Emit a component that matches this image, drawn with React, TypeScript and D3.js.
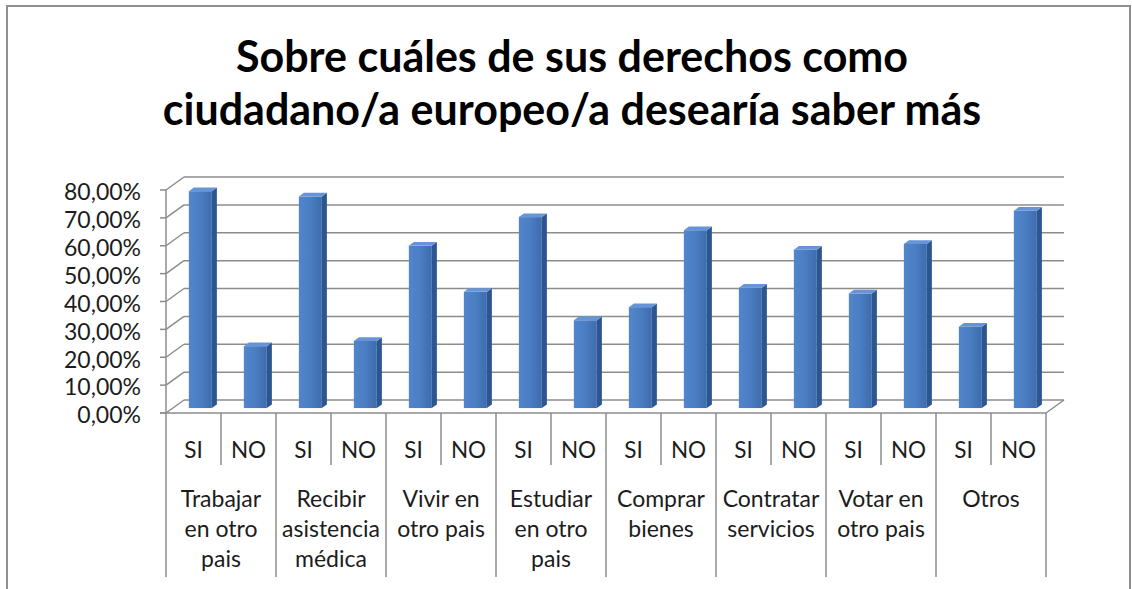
import * as d3 from "d3";

// Chart values
const categories = [
  "Trabajar en otro pais",
  "Recibir asistencia médica",
  "Vivir en otro pais",
  "Estudiar en otro pais",
  "Comprar bienes",
  "Contratar servicios",
  "Votar en otro pais",
  "Otros",
];
const categoryLines = [
  ["Trabajar", "en otro", "pais"],
  ["Recibir", "asistencia", "médica"],
  ["Vivir en", "otro pais"],
  ["Estudiar", "en otro", "pais"],
  ["Comprar", "bienes"],
  ["Contratar", "servicios"],
  ["Votar en", "otro pais"],
  ["Otros"],
];
const answers = ["SI", "NO"];
const siValues = [77.8, 75.9, 58.3, 68.5, 36.2, 43.2, 41.1, 29.2];
const noValues = [22.2, 24.1, 41.7, 31.5, 63.8, 56.8, 58.9, 70.8];
const yTicks = [0, 10, 20, 30, 40, 50, 60, 70, 80];
const titleLines = [
  "Sobre cuáles de sus derechos como",
  "ciudadano/a europeo/a desearía saber más",
];

const W = 1132;
const H = 589;
const FONT = "Lato, 'Open Sans', sans-serif";
const GRID = "#8c8c8c";
const TEXT = "#1c1c1c";

// 3D projection of the depth axis
const depthDx = 18;
const depthDy = -13;
const barFront = 0.38;
const barBack = 0.66;

export default function App() {
  const x = d3.scaleBand<string>().domain(categories).range([166, 1046]);
  const xSub = d3.scaleBand<string>().domain(answers).range([0, x.bandwidth()]);
  const y = d3.scaleLinear().domain([0, 80]).range([413, 190]);
  const fmt = (v: number) => d3.format(".2f")(v).replace(".", ",") + "%";

  const [x0, x1] = x.range();
  const barW = 23;

  const bars = categories.flatMap((c, i) =>
    answers.map((a, j) => ({
      key: c + a,
      cx: (x(c) as number) + (xSub(a) as number) + xSub.bandwidth() / 2,
      v: j === 0 ? siValues[i] : noValues[i],
    }))
  );

  return (
    <svg
      width={W}
      height={H}
      style={{ position: "absolute", left: 0, top: 0, background: "#fff" }}
    >
      <defs>
        <linearGradient id="front" x1="0" x2="1" y1="0" y2="0">
          <stop offset="0" stopColor="#5286cc" />
          <stop offset="0.5" stopColor="#4a7dc2" />
          <stop offset="1" stopColor="#3e6cad" />
        </linearGradient>
      </defs>

      {/* outer chart border */}
      <rect x={7} y={6} width={1123} height={600} fill="#fff" stroke="#8f8f8f" strokeWidth={2} />

      {/* title */}
      {titleLines.map((t, i) => (
        <text
          key={t}
          x={572}
          y={72 + i * 53}
          textAnchor="middle"
          fontFamily={FONT}
          fontWeight={700}
          fontSize={43}
          fill="#000"
        >
          {t}
        </text>
      ))}

      {/* back wall gridlines and side wall diagonals */}
      {yTicks.map((t) => (
        <g key={t} stroke={GRID} strokeWidth={1.5} fill="none">
          <line x1={x0 + depthDx} x2={x1 + depthDx} y1={y(t) + depthDy} y2={y(t) + depthDy} />
          <line x1={x0} x2={x0 + depthDx} y1={y(t)} y2={y(t) + depthDy} />
          <line x1={x0 - 6} x2={x0} y1={y(t)} y2={y(t)} />
        </g>
      ))}
      {/* front value axis */}
      <line x1={x0} x2={x0} y1={y(80)} y2={y(0)} stroke={GRID} strokeWidth={1.5} />
      {/* floor front edge and right edge */}
      <line x1={x0 - 6} x2={x1} y1={y(0)} y2={y(0)} stroke={GRID} strokeWidth={1.5} />
      <line x1={x1} x2={x1 + depthDx} y1={y(0)} y2={y(0) + depthDy} stroke={GRID} strokeWidth={1.5} />

      {/* y labels */}
      {yTicks.map((t) => (
        <text
          key={t}
          x={141}
          y={y(t) + 2}
          dy="0.36em"
          textAnchor="end"
          fontFamily={FONT}
          fontSize={23}
          fill={TEXT}
        >
          {fmt(t)}
        </text>
      ))}

      {/* 3D bars */}
      {bars.map((b) => {
        const fx = b.cx + barFront * depthDx;
        const fy = barFront * depthDy;
        const bdx = (barBack - barFront) * depthDx;
        const bdy = (barBack - barFront) * depthDy;
        const l = fx - barW / 2;
        const r = fx + barW / 2;
        const top = y(b.v) + fy;
        const bot = y(0) + fy;
        return (
          <g key={b.key}>
            <polygon
              points={`${r},${top} ${r + bdx},${top + bdy} ${r + bdx},${bot + bdy} ${r},${bot}`}
              fill="#2d5690"
            />
            <rect x={l} y={top} width={barW} height={bot - top} fill="url(#front)" />
            <polygon
              points={`${l},${top} ${l + bdx},${top + bdy} ${r + bdx},${top + bdy} ${r},${top}`}
              fill="#6595d6"
            />
          </g>
        );
      })}

      {/* category axis dividers */}
      {categories.map((c) => (
        <g key={c} stroke={GRID} strokeWidth={1.5}>
          <line x1={x(c)} x2={x(c)} y1={y(0)} y2={577} />
          <line
            x1={(x(c) as number) + (xSub("NO") as number)}
            x2={(x(c) as number) + (xSub("NO") as number)}
            y1={y(0)}
            y2={465}
          />
        </g>
      ))}
      <line x1={x1} x2={x1} y1={y(0)} y2={577} stroke={GRID} strokeWidth={1.5} />

      {/* SI / NO labels */}
      {bars.map((b, k) => (
        <text
          key={"l" + b.key}
          x={b.cx}
          y={458}
          textAnchor="middle"
          fontFamily={FONT}
          fontSize={22.5}
          fill={TEXT}
        >
          {answers[k % 2]}
        </text>
      ))}

      {/* category labels */}
      {categories.map((c, i) =>
        categoryLines[i].map((ln, k) => (
          <text
            key={c + k}
            x={(x(c) as number) + x.bandwidth() / 2}
            y={507 + k * 30}
            textAnchor="middle"
            fontFamily={FONT}
            fontSize={23}
            fill={TEXT}
          >
            {ln}
          </text>
        ))
      )}
    </svg>
  );
}
